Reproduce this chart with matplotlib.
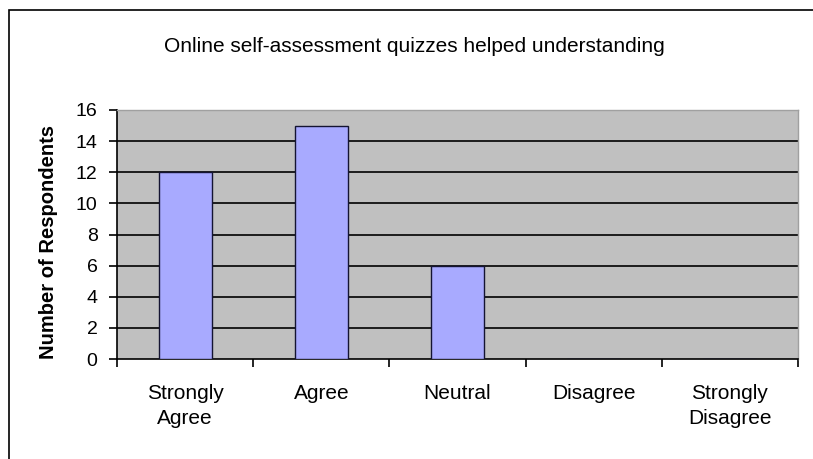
import matplotlib
matplotlib.use("Agg")
import matplotlib.pyplot as plt
from matplotlib.patches import Rectangle

categories = ["Strongly\nAgree", "Agree", "Neutral", "Disagree", "Strongly\nDisagree"]
values = [12, 15, 6, 0, 0]
yticks = [0, 2, 4, 6, 8, 10, 12, 14, 16]
title = "Online self-assessment quizzes helped understanding"
ylabel = "Number of Respondents"

plt.rcParams['font.family'] = ['Liberation Sans', 'DejaVu Sans']

W, H = 813, 459
fig = plt.figure(figsize=(W / 100, H / 100), dpi=100)
fig.patch.set_facecolor("white")

# outer chart border
fig.add_artist(Rectangle((9 / W, -0.1), 1.2, 1 - 10 / H + 0.1, transform=fig.transFigure,
                         fill=False, edgecolor="black", linewidth=1.2))

left, right, top, bottom = 117, 798, 110, 359
ax = fig.add_axes([left / W, 1 - bottom / H, (right - left) / W, (bottom - top) / H])
ax.set_facecolor("#C0C0C0")

x = list(range(len(categories)))
ax.bar(x, values, width=0.39, color="#A8AAFF", edgecolor="#141432", linewidth=1.0, zorder=3)

ax.set_xlim(-0.5, len(categories) - 0.5)
ax.set_ylim(0, 16)
ax.set_yticks(yticks)
ax.set_yticklabels([str(t) for t in yticks], fontsize=14)
for t in yticks[1:-1]:
    ax.axhline(t, color="black", linewidth=1.2, zorder=2)

ax.set_xticks(x)
ax.set_xticklabels(categories, fontsize=15, linespacing=1.42)
ax.tick_params(axis="x", length=0, pad=18)
ax.set_xticks([i - 0.5 for i in range(len(categories) + 1)], minor=True)
ax.tick_params(axis="x", which="minor", length=6, width=1.2, direction="out", color="black")
ax.tick_params(axis="y", length=6, width=1.2, direction="out", pad=8)

for s in ["top", "right"]:
    ax.spines[s].set_color("#A0A0A0")
    ax.spines[s].set_linewidth(1.0)
for s in ["left", "bottom"]:
    ax.spines[s].set_color("black")
    ax.spines[s].set_linewidth(1.2)

ax.set_ylabel(ylabel, fontsize=14.5, fontweight="bold")
ax.yaxis.set_label_coords((58 - left) / (right - left), (bottom - 242) / (bottom - top))
fig.text((160 + 668) / 2 / W, 1 - 46 / H, title, ha="center", va="center", fontsize=15)

fig.savefig("out.png", dpi=100)
